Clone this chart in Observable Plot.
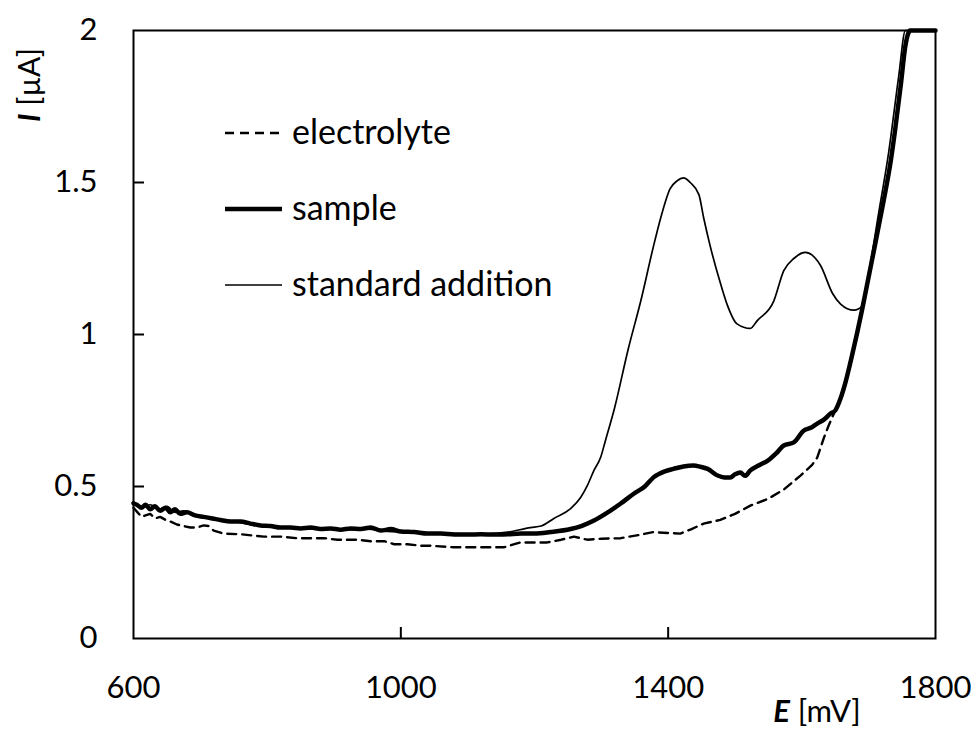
<!DOCTYPE html>
<html><head><meta charset="utf-8">
<script src="https://cdn.jsdelivr.net/npm/d3@7"></script>
<script src="https://cdn.jsdelivr.net/npm/@observablehq/plot@0.6"></script>
<style>
body{margin:0;background:#fff}
#wrap{width:974px;height:729px}
</style></head>
<body><div id="wrap"></div>
<script>
// tick values
const xTicks = [600, 1000, 1400, 1800];
const yTicks = [0, 0.5, 1, 1.5, 2];
const xInnerTicks = [1000, 1400];
const yInnerTicks = [0.5, 1, 1.5];

// series: [E (mV), I (µA)]
const electrolyte = [[600,0.43],[606,0.415],[612,0.40],[618,0.405],[625,0.41],[632,0.395],[640,0.40],[648,0.39],[655,0.385],[665,0.375],[675,0.37],[685,0.365],[695,0.365],[705,0.372],[712,0.37],[720,0.355],[735,0.345],[760,0.343],[795,0.335],[820,0.335],[845,0.33],[885,0.33],[905,0.325],[935,0.325],[955,0.32],[975,0.32],[990,0.31],[1010,0.31],[1030,0.305],[1044,0.305],[1079,0.30],[1120,0.30],[1154,0.30],[1179,0.316],[1219,0.316],[1240,0.325],[1259,0.335],[1279,0.325],[1300,0.328],[1329,0.33],[1355,0.34],[1378,0.35],[1400,0.347],[1418,0.345],[1435,0.36],[1453,0.378],[1478,0.39],[1500,0.41],[1523,0.437],[1550,0.46],[1573,0.49],[1598,0.536],[1615,0.57],[1623,0.595],[1633,0.66],[1640,0.70],[1648,0.74],[1660,0.80],[1675,0.93],[1690,1.08],[1700,1.19],[1710,1.30],[1725,1.47],[1740,1.68],[1755,1.95],[1762,2.0],[1800,2.0]];

const sample = [[600,0.445],[605,0.44],[612,0.43],[618,0.44],[625,0.425],[632,0.435],[640,0.42],[648,0.43],[655,0.415],[662,0.425],[670,0.41],[680,0.415],[692,0.405],[705,0.40],[718,0.395],[730,0.39],[745,0.385],[760,0.385],[775,0.378],[790,0.372],[805,0.37],[820,0.365],[835,0.365],[850,0.362],[865,0.365],[880,0.36],[895,0.362],[910,0.358],[925,0.362],[940,0.36],[955,0.365],[970,0.355],[985,0.36],[1000,0.352],[1020,0.35],[1040,0.345],[1060,0.345],[1080,0.342],[1100,0.342],[1120,0.343],[1140,0.342],[1160,0.343],[1180,0.345],[1200,0.345],[1224,0.35],[1254,0.36],[1270,0.37],[1289,0.388],[1309,0.414],[1329,0.444],[1349,0.477],[1365,0.50],[1378,0.53],[1395,0.55],[1408,0.558],[1423,0.566],[1438,0.569],[1448,0.565],[1459,0.558],[1474,0.536],[1484,0.53],[1493,0.53],[1500,0.54],[1508,0.546],[1515,0.535],[1523,0.553],[1536,0.57],[1549,0.585],[1562,0.61],[1573,0.635],[1588,0.645],[1603,0.684],[1615,0.695],[1623,0.707],[1633,0.72],[1643,0.74],[1650,0.75],[1658,0.79],[1665,0.84],[1675,0.93],[1690,1.08],[1700,1.19],[1710,1.30],[1718,1.39],[1725,1.47],[1733,1.57],[1740,1.68],[1748,1.82],[1755,1.95],[1762,2.0],[1800,2.0]];

const standardAddition = [[600,0.445],[612,0.43],[625,0.44],[638,0.425],[650,0.435],[662,0.415],[675,0.42],[690,0.405],[710,0.40],[730,0.39],[750,0.385],[775,0.375],[800,0.37],[830,0.365],[860,0.36],[890,0.362],[920,0.358],[950,0.36],[980,0.352],[1010,0.35],[1040,0.345],[1080,0.345],[1120,0.343],[1160,0.35],[1194,0.365],[1210,0.37],[1229,0.395],[1254,0.427],[1269,0.464],[1279,0.503],[1289,0.553],[1299,0.596],[1306,0.65],[1320,0.76],[1340,0.95],[1359,1.11],[1378,1.29],[1389,1.385],[1403,1.48],[1413,1.505],[1423,1.515],[1433,1.50],[1446,1.46],[1453,1.385],[1463,1.29],[1478,1.17],[1488,1.10],[1503,1.035],[1523,1.02],[1533,1.045],[1558,1.11],[1573,1.21],[1588,1.25],[1605,1.27],[1628,1.227],[1646,1.135],[1658,1.10],[1678,1.08],[1691,1.095],[1700,1.2],[1715,1.4],[1730,1.6],[1745,1.85],[1755,2.0],[1800,2.0]];

const W = 974, H = 729, mL = 133, mR = 39, mT = 30, mB = 91;
const plotW = W - mL - mR, plotH = H - mT - mB, tickLen = 11;
const xDomain = [600, 1800], yDomain = [0, 2];

const chart = Plot.plot({
  width: W, height: H,
  marginLeft: mL, marginRight: mR, marginTop: mT, marginBottom: mB,
  style: {fontFamily: "Lato, sans-serif", fontSize: "31px", color: "#000", background: "#fff"},
  x: {domain: xDomain},
  y: {domain: yDomain},
  marks: [
    Plot.line(electrolyte, {x: d => d[0], y: d => d[1], stroke: "#000", strokeWidth: 2.4, strokeDasharray: "9,6"}),
    Plot.line(standardAddition, {x: d => d[0], y: d => d[1], stroke: "#000", strokeWidth: 1.7, curve: "monotone-x"}),
    Plot.line(sample, {x: d => d[0], y: d => d[1], stroke: "#000", strokeWidth: 4.5, curve: "monotone-x"}),
    Plot.tickX(xInnerTicks, {x: d => d, stroke: "#000", strokeWidth: 2, insetTop: plotH - tickLen}),
    Plot.tickY(yInnerTicks, {y: d => d, stroke: "#000", strokeWidth: 2, insetRight: plotW - tickLen}),
    Plot.axisX(xTicks, {tickSize: 0, tickPadding: 37, label: null, tickFormat: d => String(d)}),
    Plot.axisY(yTicks, {tickSize: 0, tickPadding: 36, label: null, tickFormat: d => String(d)}),
    Plot.frame({stroke: "#000", strokeWidth: 2})
  ]
});
document.getElementById("wrap").appendChild(chart);

// legend + axis titles, appended into the chart's own svg
const legendItems = [
  {label: "electrolyte", width: 2.4, dash: "9,6"},
  {label: "sample", width: 4.5, dash: null},
  {label: "standard addition", width: 1.6, dash: null}
];
const ns = "http://www.w3.org/2000/svg";
const g = document.createElementNS(ns, "g");
g.setAttribute("font-family", "Lato, sans-serif");
g.setAttribute("fill", "#000");
g.setAttribute("text-anchor", "start");
legendItems.forEach((it, i) => {
  const ly = 133 + i * 76;
  const ln = document.createElementNS(ns, "line");
  ln.setAttribute("x1", 225); ln.setAttribute("x2", 282);
  ln.setAttribute("y1", ly); ln.setAttribute("y2", ly);
  ln.setAttribute("stroke", "#000"); ln.setAttribute("stroke-width", it.width);
  if (it.dash) ln.setAttribute("stroke-dasharray", it.dash);
  g.appendChild(ln);
  const t = document.createElementNS(ns, "text");
  t.setAttribute("x", 292); t.setAttribute("y", ly + 11);
  t.setAttribute("font-size", "34");
  t.setAttribute("text-anchor", "start");
  t.textContent = it.label;
  g.appendChild(t);
});
const xl = document.createElementNS(ns, "text");
xl.setAttribute("x", 817); xl.setAttribute("y", 722);
xl.setAttribute("text-anchor", "middle"); xl.setAttribute("font-size", "31");
xl.innerHTML = '<tspan font-weight="bold" font-style="italic">E</tspan> [mV]';
g.appendChild(xl);
const yl = document.createElementNS(ns, "text");
yl.setAttribute("transform", "translate(40,85) rotate(-90)");
yl.setAttribute("text-anchor", "middle"); yl.setAttribute("font-size", "30");
yl.innerHTML = '<tspan font-weight="bold" font-style="italic">I</tspan> [µA]';
g.appendChild(yl);
chart.appendChild(g);
</script>
</body></html>
